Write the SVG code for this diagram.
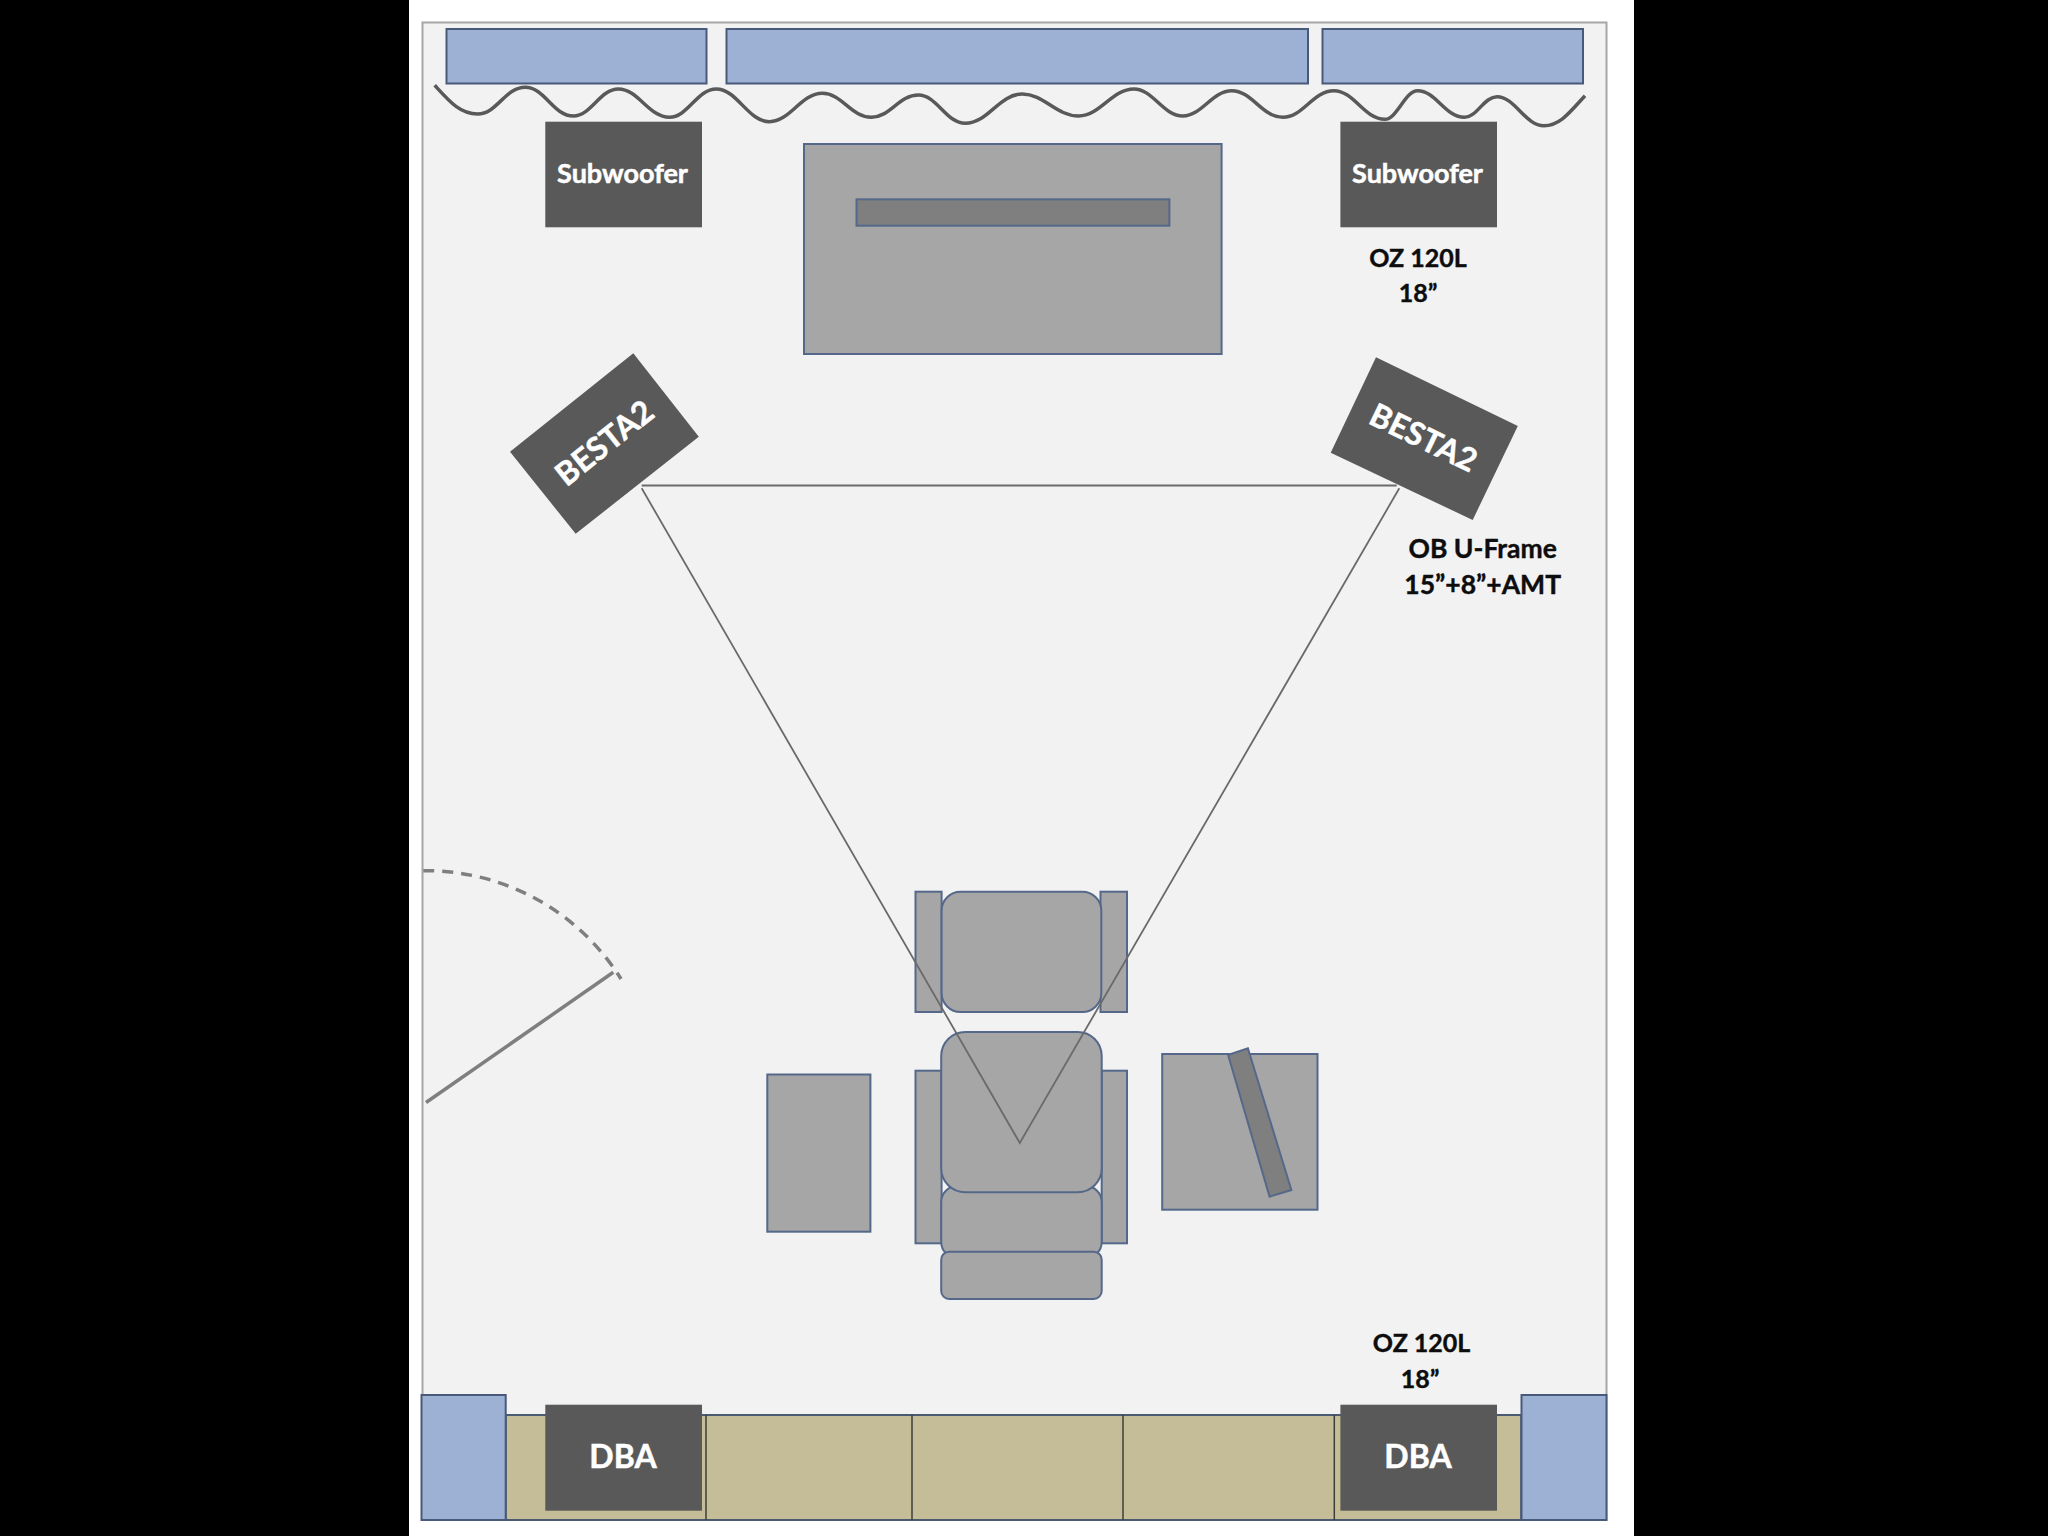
<svg xmlns="http://www.w3.org/2000/svg" width="2048" height="1536" viewBox="0 0 2048 1536">
<style>
.gray{fill:#a6a6a6;stroke:#55688a;stroke-width:2}
.bar{fill:#7f7f7f;stroke:#55688a;stroke-width:2}
.blue{fill:#9cb1d4;stroke:#48597a;stroke-width:2}
.tan{fill:#c4bd97;stroke:#4a5a70;stroke-width:2}
.dark{fill:#595959}
.div{stroke:#3f3f3a;stroke-width:1.5;fill:none}
.wl{fill:#fff;stroke:#fff;stroke-width:.5;font-family:Lato,"Liberation Sans",sans-serif;font-weight:700;text-anchor:middle}
.bl{fill:#0d0d0d;stroke:#0d0d0d;stroke-width:.4;font-family:Lato,"Liberation Sans",sans-serif;font-weight:700;text-anchor:middle;font-size:25px}
.wide{font-size:26.500px}
.conn{stroke:#6a6a6a;stroke-width:1.8;fill:none}
</style>
<rect width="2048" height="1536" fill="#000"/>
<rect x="409" y="0" width="1225" height="1536" fill="#fff"/>
<rect id="room" x="422.5" y="22.5" width="1184" height="1497" fill="#f2f2f3" stroke="#a6a6a6" stroke-width="2"/>
<g id="window-left"><rect class="blue" x="446.500" y="29" width="260" height="54.500"/></g>
<g id="window-center"><rect class="blue" x="726.500" y="29" width="581.500" height="54.500"/></g>
<g id="window-right"><rect class="blue" x="1322.500" y="29" width="260.500" height="54.500"/></g>
<g id="curtain"><path fill="none" stroke="#595959" stroke-width="3.500" d="M434.700 85.300C450 102 460 114 477.600 114C497 114 505 87.300 525.300 87.300C545 87.300 553 116 573.500 116C591 116 600 89 618.400 89C638 89 649 117.300 669.400 117.300C688 117.300 697 89 716.300 89C737 89 748 121.700 769.400 121.700C790 121.700 801 93.300 822.400 93.300C842 93.300 851 117.300 871.400 117.300C890 117.300 899 95 918.400 95C937 95 946 123.300 965.300 123.300C988 123.300 999 94 1022.400 94C1044 94 1056 116 1078.800 116C1100 116 1112 89 1133.900 89C1153 89 1163 116 1182.900 116C1202 116 1212 90.700 1231.800 90.700C1252 90.700 1262 117.300 1282.900 117.300C1303 117.300 1313 90.700 1333.900 90.700C1354 90.700 1364 119.300 1384.900 119.300C1397 119.300 1405 90.700 1417.600 90.700C1436 90.700 1445 117.300 1464.500 117.300C1477 117.300 1484 96.700 1497 96.700C1515 96.700 1525 125.700 1544 125.700C1560 125.700 1570 112 1585 95.700"/></g>
<g id="subwoofer-left"><rect class="dark" x="545.300" y="121.700" width="156.700" height="105.600"/><text class="wl" x="622.500" y="183" font-size="27">Subwoofer</text></g>
<g id="subwoofer-right"><rect class="dark" x="1340.400" y="121.700" width="156.600" height="105.600"/><text class="wl" x="1417.500" y="183" font-size="27">Subwoofer</text></g>
<g id="label-oz-top"><text class="bl" x="1418" y="266.700">OZ 120L</text><text class="bl" x="1418" y="301.700">18”</text></g>
<g id="tv-stand"><rect class="gray" x="804" y="144" width="417.600" height="210"/></g>
<g id="tv"><rect class="bar" x="856.500" y="199.300" width="312.900" height="26.400"/></g>
<g id="speaker-left"><polygon class="dark" points="633.300,353.300 698.800,436.700 575.700,533.800 510,451.700"/><text class="wl" x="604.500" y="454" font-size="32" transform="rotate(-38.600 604.500 443)">BESTA2</text></g>
<g id="speaker-right"><polygon class="dark" points="1376,357.300 1517.800,426 1472.700,520 1330.700,452.700"/><text class="wl" x="1423.500" y="449" font-size="32" transform="rotate(25.900 1423.500 438)">BESTA2</text></g>
<g id="label-ob"><text class="bl wide" x="1482.700" y="558.300">OB U-Frame</text><text class="bl wide" x="1482.700" y="594.300">15”+8”+AMT</text></g>
<g id="door"><path fill="none" stroke="#7f7f7f" stroke-width="3.500" stroke-dasharray="11 8" d="M423.300 870.700A230 230 0 0 1 621 979"/><path fill="none" stroke="#7f7f7f" stroke-width="3.500" d="M426 1102.500L613.300 972.300"/></g>
<g id="ottoman"><rect class="gray" x="915.500" y="891.700" width="26.100" height="120.300"/><rect class="gray" x="1100.500" y="891.700" width="26.500" height="120.300"/><rect class="gray" x="941.600" y="891.700" width="159.700" height="120.300" rx="19" ry="19"/></g>
<g id="side-table"><rect class="gray" x="767.300" y="1074.500" width="103.100" height="157.200"/></g>
<g id="armchair"><rect class="gray" x="915.500" y="1070.700" width="26.100" height="172.600"/><rect class="gray" x="1101.700" y="1070.700" width="25.300" height="172.600"/><rect class="gray" x="941.200" y="1186" width="160.500" height="72" rx="16" ry="16"/><rect class="gray" x="941.200" y="1251.700" width="160.500" height="47.300" rx="8" ry="8"/><rect class="gray" x="941.200" y="1032" width="160.500" height="160.300" rx="24" ry="24"/></g>
<g id="desk"><rect class="gray" x="1162.200" y="1054" width="155.300" height="155.700"/><polygon class="bar" points="1228.100,1055 1247.900,1048.300 1291.400,1190 1269.600,1196.700"/></g>
<g id="connectors"><path class="conn" d="M641.700 485.500H1396.700"/><path class="conn" d="M641.700 488.300L1019.800 1143L1399.300 488.300"/></g>
<g id="front-wall"><rect class="tan" x="505.700" y="1415" width="1015.500" height="105"/><path class="div" d="M706 1415V1520M912 1415V1520M1123 1415V1520M1334.300 1415V1520"/></g>
<g id="corner-left"><rect class="blue" x="421.500" y="1395" width="84.200" height="125"/></g>
<g id="corner-right"><rect class="blue" x="1521.500" y="1395" width="85" height="125"/></g>
<g id="dba-left"><rect class="dark" x="545.300" y="1404.700" width="156.700" height="106"/><text class="wl" x="623" y="1468.300" font-size="32">DBA</text></g>
<g id="dba-right"><rect class="dark" x="1340.400" y="1404.700" width="156.600" height="106"/><text class="wl" x="1418" y="1468.300" font-size="32">DBA</text></g>
<g id="label-oz-bottom"><text class="bl" x="1421.600" y="1351.700">OZ 120L</text><text class="bl" x="1420" y="1387.700">18”</text></g>
</svg>
